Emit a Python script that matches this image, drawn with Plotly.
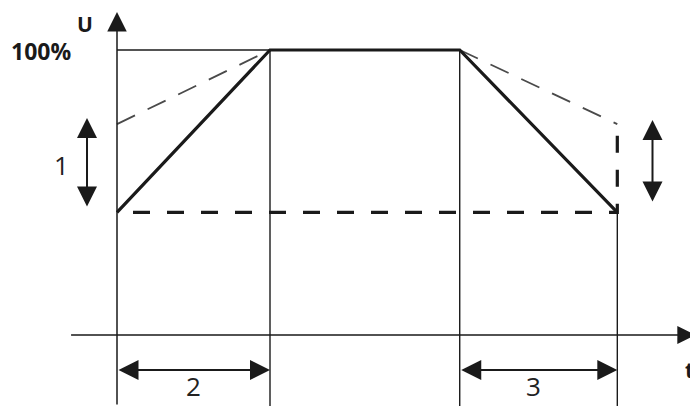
import plotly.graph_objects as go

# time marks: ramp-up start, ramp-up end, ramp-down start, ramp-down end
t_marks = [0, 10, 22.4, 32.7]
# output voltage U in % of nominal
u_profile = [43, 100, 100, 43]
u_full = 100
u_low = 43      # lowest start / stop level
u_high = 74     # highest start / stop level

# drawn axes (time axis runs along U = 0)
t_axis = [-3.1, 37.8]
u_axis = [-24.9, 113.3]

# adjustment arrows
arrow_1_t = -1.96
arrow_1_u = [44.6, 76.1]
arrow_r_t = 35.0
arrow_r_u = [46.3, 75.4]
arrow_time_u = -12.3     # level of the ramp time arrows 2 and 3

# labels
num_labels = ["1", "2", "3"]
num_label_t = [-3.66, 4.97, 27.2]
num_label_u = [59.6, -24.9, -24.9]
num_label_anchor = ["middle", "bottom", "bottom"]

INK = "#1a1a1a"
GREY = "#4a4a4a"

fig = go.Figure()

# thin 100% reference from the U axis to the end of the ramp-up
fig.add_trace(go.Scatter(x=[t_marks[0], t_marks[1]], y=[u_full, u_full], mode="lines",
                         line=dict(color=INK, width=1.4)))

# vertical guide lines down to the bottom edge
for t, top in zip(t_marks[1:], [u_full, u_full, u_low]):
    fig.add_trace(go.Scatter(x=[t, t], y=[u_axis[0], top], mode="lines",
                             line=dict(color=INK, width=1.4)))

# thin dashed: highest start / stop ramps
fig.add_trace(go.Scatter(x=[t_marks[0], t_marks[1]], y=[u_high, u_full], mode="lines",
                         line=dict(color=GREY, width=1.8, dash="20px,14px")))
fig.add_trace(go.Scatter(x=[t_marks[2], t_marks[3]], y=[u_full, u_high], mode="lines",
                         line=dict(color=GREY, width=1.8, dash="20px,14px")))

# thick dashed: lowest level and the stop step (pattern starts with a gap)
fig.add_trace(go.Scatter(x=[t_marks[0], t_marks[3], t_marks[3]], y=[u_low, u_low, u_high],
                         mode="lines",
                         line=dict(color=INK, width=3.2, dash="0px,16px,17px,1px")))

# soft start / soft stop profile
fig.add_trace(go.Scatter(x=t_marks, y=u_profile, mode="lines",
                         line=dict(color=INK, width=3.2)))

# axes with arrow heads
fig.add_annotation(x=0, y=u_axis[1], ax=0, ay=u_axis[0], axref="x", ayref="y",
                   text="", showarrow=True, arrowhead=2, arrowsize=2.6, arrowwidth=1.5,
                   arrowcolor=INK)
fig.add_annotation(x=t_axis[1], y=0, ax=t_axis[0], ay=0, axref="x", ayref="y",
                   text="", showarrow=True, arrowhead=2, arrowsize=2.4, arrowwidth=1.5,
                   arrowcolor=INK)

# double arrows
double_arrows = [
    (arrow_1_t, arrow_1_u[1], arrow_1_t, arrow_1_u[0]),
    (arrow_r_t, arrow_r_u[1], arrow_r_t, arrow_r_u[0]),
    (t_marks[1], arrow_time_u, t_marks[0], arrow_time_u),
    (t_marks[3], arrow_time_u, t_marks[2], arrow_time_u),
]
for x, y, ax, ay in double_arrows:
    fig.add_annotation(x=x, y=y, ax=ax, ay=ay, axref="x", ayref="y", text="",
                       showarrow=True, arrowside="end+start",
                       arrowhead=2, startarrowhead=2, arrowsize=2, startarrowsize=2,
                       arrowwidth=2, arrowcolor=INK)

# text
for s, t, u, anc in zip(num_labels, num_label_t, num_label_u, num_label_anchor):
    fig.add_annotation(x=t, y=u, text=s, showarrow=False, yanchor=anc,
                       font=dict(family="Open Sans", size=26, color="#222222"))
fig.add_annotation(x=-2.09, y=u_axis[1], text="<b>U</b>", showarrow=False,
                   yanchor="top", yshift=4,
                   font=dict(family="Open Sans", size=21, color=INK))
fig.add_annotation(x=-5.0, y=u_full - 0.5, text="<b>100%</b>", showarrow=False,
                   font=dict(family="Open Sans", size=23, color=INK))
fig.add_annotation(x=37.45, y=arrow_time_u, text="<b>t</b>", showarrow=False,
                   font=dict(family="Open Sans", size=21, color=INK))

# the page adds an 8 px body margin, so the figure is 8 px smaller than the window
fig.update_layout(
    width=690, height=398,
    margin=dict(l=0, r=0, t=0, b=0),
    plot_bgcolor="white", paper_bgcolor="white",
    showlegend=False,
    xaxis=dict(range=[-7.124, 37.974], visible=False, fixedrange=True),
    yaxis=dict(range=[-24.91, 114.74], visible=False, fixedrange=True),
)

fig.write_html("out.html")
